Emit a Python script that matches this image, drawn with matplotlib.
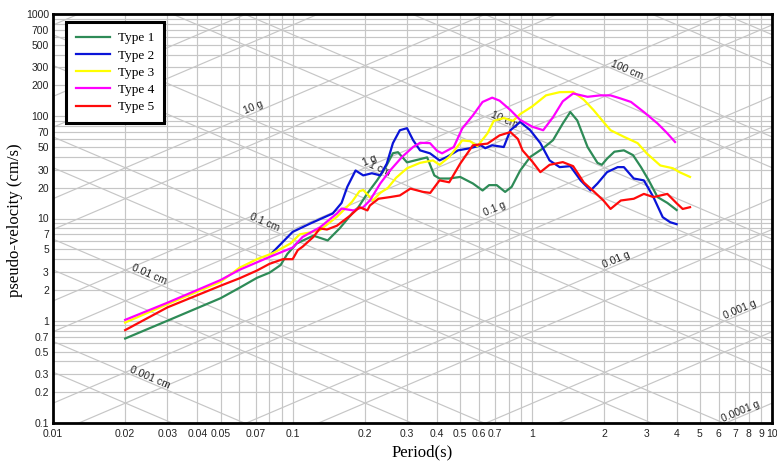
import numpy as np
import matplotlib
matplotlib.use("Agg")
import matplotlib.pyplot as plt
from matplotlib.ticker import FixedLocator, NullFormatter

# ---- response spectra (period in s, pseudo-velocity in cm/s) ----
period_1 = [0.02, 0.03, 0.05, 0.06, 0.071, 0.08, 0.089, 0.095, 0.104, 0.122, 0.14,
            0.157, 0.177, 0.188, 0.205, 0.225, 0.243, 0.262, 0.275, 0.30, 0.324,
            0.364, 0.39, 0.41, 0.45, 0.50, 0.565, 0.62, 0.66, 0.71, 0.77, 0.82,
            0.89, 0.98, 1.11, 1.22, 1.34, 1.44, 1.54, 1.70, 1.87, 1.95, 2.05,
            2.2, 2.41, 2.63, 2.84, 3.06, 3.33, 3.66, 4.0]
psv_1 = [0.67, 1.0, 1.66, 2.1, 2.63, 2.95, 3.5, 4.5, 5.7, 6.8, 6.1,
         8.0, 11.2, 12.9, 17.6, 23.6, 31, 43.5, 44.5, 35.4, 37,
         39.6, 26.4, 24.6, 24.6, 25.5, 22, 18.8, 21.2, 21.2, 18.2, 20.4,
         29.5, 40, 48.7, 58.4, 85, 110, 91, 50, 35, 33.5, 38.5,
         45, 46.4, 41.7, 31.8, 23.6, 16.2, 14.2, 12.1]

period_2 = [0.082, 0.1, 0.118, 0.147, 0.16, 0.169, 0.183, 0.197, 0.214, 0.232,
            0.247, 0.262, 0.28, 0.30, 0.318, 0.34, 0.374, 0.41, 0.44, 0.49,
            0.55, 0.61, 0.636, 0.68, 0.76, 0.81, 0.89, 0.98, 1.08, 1.18, 1.30,
            1.44, 1.59, 1.75, 1.87, 2.05, 2.27, 2.41, 2.65, 2.92, 3.2, 3.5,
            3.76, 4.0]
psv_2 = [4.6, 7.4, 8.9, 11.2, 14.2, 20.4, 29.5, 26.4, 27.7, 26.4,
         34.4, 54.6, 73, 76.4, 58.4, 46.4, 43.4, 37, 40, 46.4,
         48.7, 52, 48.7, 52, 50, 73, 88, 73, 54.6, 37, 31.8,
         32.5, 23.6, 18.8, 22, 28.4, 31.8, 31.8, 24.6, 23.6, 16.2, 10.3,
         9.2, 8.8]

period_3 = [0.02, 0.03, 0.05, 0.06, 0.071, 0.083, 0.098, 0.107, 0.118, 0.13,
            0.153, 0.177, 0.19, 0.197, 0.206, 0.216, 0.232, 0.25, 0.27, 0.30,
            0.34, 0.385, 0.41, 0.45, 0.51, 0.55, 0.59, 0.65, 0.69, 0.76, 0.83,
            0.89, 1.0, 1.14, 1.30, 1.48, 1.64, 1.80, 1.98, 2.12, 2.41, 2.75,
            3.0, 3.42, 3.86, 4.11, 4.55]
psv_3 = [0.96, 1.45, 2.4, 3.3, 4.0, 4.6, 5.7, 7.0, 7.3, 7.7,
         10.4, 14.6, 18.5, 19, 17, 15, 17.8, 20, 25, 31,
         35, 37, 33.5, 40, 58, 57, 51, 68, 90, 96, 90,
         105, 125, 160, 172, 173, 145, 115, 88, 73, 63, 54.6,
         43.4, 33, 31, 28.4, 25.5]

period_4 = [0.02, 0.03, 0.05, 0.06, 0.08, 0.1, 0.11, 0.13, 0.153, 0.16, 0.179,
            0.197, 0.21, 0.232, 0.255, 0.286, 0.318, 0.34, 0.374, 0.40, 0.42,
            0.47, 0.51, 0.565, 0.62, 0.68, 0.73, 0.81, 0.89, 1.0, 1.11, 1.22,
            1.34, 1.48, 1.70, 1.92, 2.12, 2.34, 2.58, 2.92, 3.33, 3.66, 3.94]
psv_4 = [1.02, 1.5, 2.5, 3.15, 4.2, 5.2, 6.6, 8.2, 11.2, 12.5, 12.0,
         12.9, 15, 22, 29.5, 40, 50, 55, 54.6, 46, 43.4,
         50, 76, 102, 138, 152, 142, 115, 92, 79, 73, 98,
         140, 167, 155, 160, 160, 149, 138, 110, 85, 68, 56]

period_5 = [0.02, 0.03, 0.05, 0.06, 0.071, 0.08, 0.091, 0.1, 0.105, 0.11, 0.122,
            0.13, 0.139, 0.153, 0.174, 0.19, 0.205, 0.21, 0.228, 0.255, 0.28,
            0.31, 0.35, 0.375, 0.41, 0.45, 0.50, 0.565, 0.65, 0.73, 0.81, 0.87,
            0.91, 1.0, 1.08, 1.18, 1.34, 1.48, 1.64, 1.80, 1.98, 2.12, 2.34,
            2.65, 2.92, 3.2, 3.66, 4.0, 4.24, 4.55]
psv_5 = [0.81, 1.35, 2.2, 2.6, 3.1, 3.6, 4.0, 4.0, 4.9, 5.3, 6.6,
         8.0, 7.8, 8.5, 10.7, 12.9, 12.0, 13.4, 15.6, 16.2, 16.8,
         19.6, 18.2, 17.8, 23.6, 22.6, 34.4, 52, 54, 65, 70, 60,
         46.4, 36, 28.4, 33.5, 35.6, 32.5, 22.5, 18.5, 15, 12.4, 15,
         15.6, 17.4, 16.2, 17.4, 14.1, 12.4, 12.9]

series_names = ["Type 1", "Type 2", "Type 3", "Type 4", "Type 5"]
series_colors = ["#2e8b57", "#0a14d8", "#ffff00", "#ff00ff", "#ff0a0a"]
series_periods = [period_1, period_2, period_3, period_4, period_5]
series_psv = [psv_1, psv_2, psv_3, psv_4, psv_5]

# ---- axis ticks ----
x_tick_values = [0.01, 0.02, 0.03, 0.04, 0.05, 0.07, 0.1, 0.2, 0.3, 0.4, 0.5,
                 0.6, 0.7, 1, 2, 3, 4, 5, 6, 7, 8, 9, 10]
x_tick_labels = ["0.01", "0.02", "0.03", "0.04", "0.05", "0.07", "0.1", "0.2",
                 "0.3", "0.4", "0.5", "0.6", "0.7", "1", "2", "3", "4", "5",
                 "6", "7", "8", "9", "10"]
y_tick_values = [0.1, 0.2, 0.3, 0.5, 0.7, 1, 2, 3, 5, 7, 10, 20, 30, 50, 70,
                 100, 200, 300, 500, 700, 1000]
y_tick_labels = ["0.1", "0.2", "0.3", "0.5", "0.7", "1", "2", "3", "5", "7",
                 "10", "20", "30", "50", "70", "100", "200", "300", "500",
                 "700", "1000"]

# ---- tripartite lines ----
disp_labels = ["0.001 cm", "0.01 cm", "0.1 cm", "1 cm", "10 cm", "100 cm"]
disp_values = [0.001, 0.01, 0.1, 1, 10, 100]          # cm
acc_labels = ["0.0001 g", "0.001 g", "0.01 g", "0.1 g", "1 g", "10 g"]
acc_values = [0.0001, 0.001, 0.01, 0.1, 1, 10]         # g

G_CMS2 = 981.0
TWO_PI = 2 * np.pi


def psv_from_disp(d, t):
    return TWO_PI * d / t


def psv_from_acc(a, t):
    return a * G_CMS2 * t / TWO_PI


GRID_COLOR = "#c6c6c6"
TICK_FONT = "Liberation Sans"
SERIF_FONT = "Liberation Serif"

fig = plt.figure(figsize=(7.77, 4.63), dpi=100)
ax = fig.add_axes([53 / 777, 40 / 463, 719 / 777, 409 / 463])
ax.set_xscale("log")
ax.set_yscale("log")
ax.set_xlim(0.01, 10)
ax.set_ylim(0.1, 1000)

# rectangular grid at every 1..9 step of each decade
x_minor = [k * 10.0 ** e for e in range(-2, 1) for k in range(1, 10)
           if k * 10.0 ** e not in x_tick_values]
y_minor = [k * 10.0 ** e for e in range(-1, 3) for k in range(1, 10)
           if k * 10.0 ** e not in y_tick_values]
ax.xaxis.set_major_locator(FixedLocator(x_tick_values))
ax.xaxis.set_minor_locator(FixedLocator(x_minor))
ax.yaxis.set_major_locator(FixedLocator(y_tick_values))
ax.yaxis.set_minor_locator(FixedLocator(y_minor))
ax.set_xticklabels(x_tick_labels)
ax.set_yticklabels(y_tick_labels)
ax.xaxis.set_minor_formatter(NullFormatter())
ax.yaxis.set_minor_formatter(NullFormatter())
ax.grid(True, which="both", color=GRID_COLOR, linewidth=0.85, zorder=0)
ax.set_axisbelow(True)
ax.tick_params(which="both", length=0)
ax.tick_params(axis="x", pad=4)
ax.tick_params(axis="y", pad=3)
for lab in ax.get_xticklabels() + ax.get_yticklabels():
    lab.set_fontfamily(TICK_FONT)
    lab.set_fontsize(7.5)
    lab.set_color("#222222")

for sp in ax.spines.values():
    sp.set_linewidth(2.0)
    sp.set_color("black")
    sp.set_zorder(10)

# diagonal lines at 1x and 5x every decade
t_span = np.array([0.01, 10.0])
for e in range(-5, 4):
    for k in (1, 5):
        v = k * 10.0 ** e
        ax.plot(t_span, psv_from_disp(v, t_span), color=GRID_COLOR,
                linewidth=0.85, zorder=0.5)
        ax.plot(t_span, psv_from_acc(v, t_span), color=GRID_COLOR,
                linewidth=0.85, zorder=0.5)


def screen_angle(sign):
    p = ax.transData.transform([(1.0, 1.0), (10.0, 10.0 ** sign)])
    d = p[1] - p[0]
    return np.degrees(np.arctan2(d[1], d[0]))


ang_up = screen_angle(1)
ang_down = screen_angle(-1)

disp_label_periods = [0.0249, 0.0247, 0.0752, 0.227, 0.747, 2.43]
acc_label_periods = [7.54, 7.48, 2.28, 0.71, 0.214, 0.0697]
label_style = dict(fontsize=7.5, family=TICK_FONT, color="#222222",
                   ha="center", va="bottom", rotation_mode="anchor", zorder=3)
for name, v, t in zip(disp_labels, disp_values, disp_label_periods):
    ax.text(t, psv_from_disp(v, t), name, rotation=ang_down, **label_style)
for name, v, t in zip(acc_labels, acc_values, acc_label_periods):
    ax.text(t, psv_from_acc(v, t), name, rotation=ang_up, **label_style)

# spectra
handles = []
for name, col, t, v in zip(series_names, series_colors, series_periods, series_psv):
    h, = ax.plot(t, v, color=col, linewidth=1.6, label=name, zorder=4,
                 solid_joinstyle="round")
    handles.append(h)

leg = ax.legend(handles=handles, loc="upper left", bbox_to_anchor=(0.018, 0.98),
                borderaxespad=0, prop={"family": SERIF_FONT, "size": 9.5},
                handlelength=2.6, handletextpad=0.6, labelspacing=0.38,
                borderpad=0.75, fancybox=False, framealpha=1, edgecolor="black")
leg.get_frame().set_linewidth(2.2)
leg.set_zorder(12)

fig.text(422 / 777, 1 - 452 / 463, "Period(s)", ha="center", va="center",
         family=SERIF_FONT, fontsize=12)
fig.text(15 / 777, 1 - 220 / 463, "pseudo-velocity (cm/s)", ha="center",
         va="center", rotation=90, family=SERIF_FONT, fontsize=12)

fig.savefig("out.png", dpi=100)
